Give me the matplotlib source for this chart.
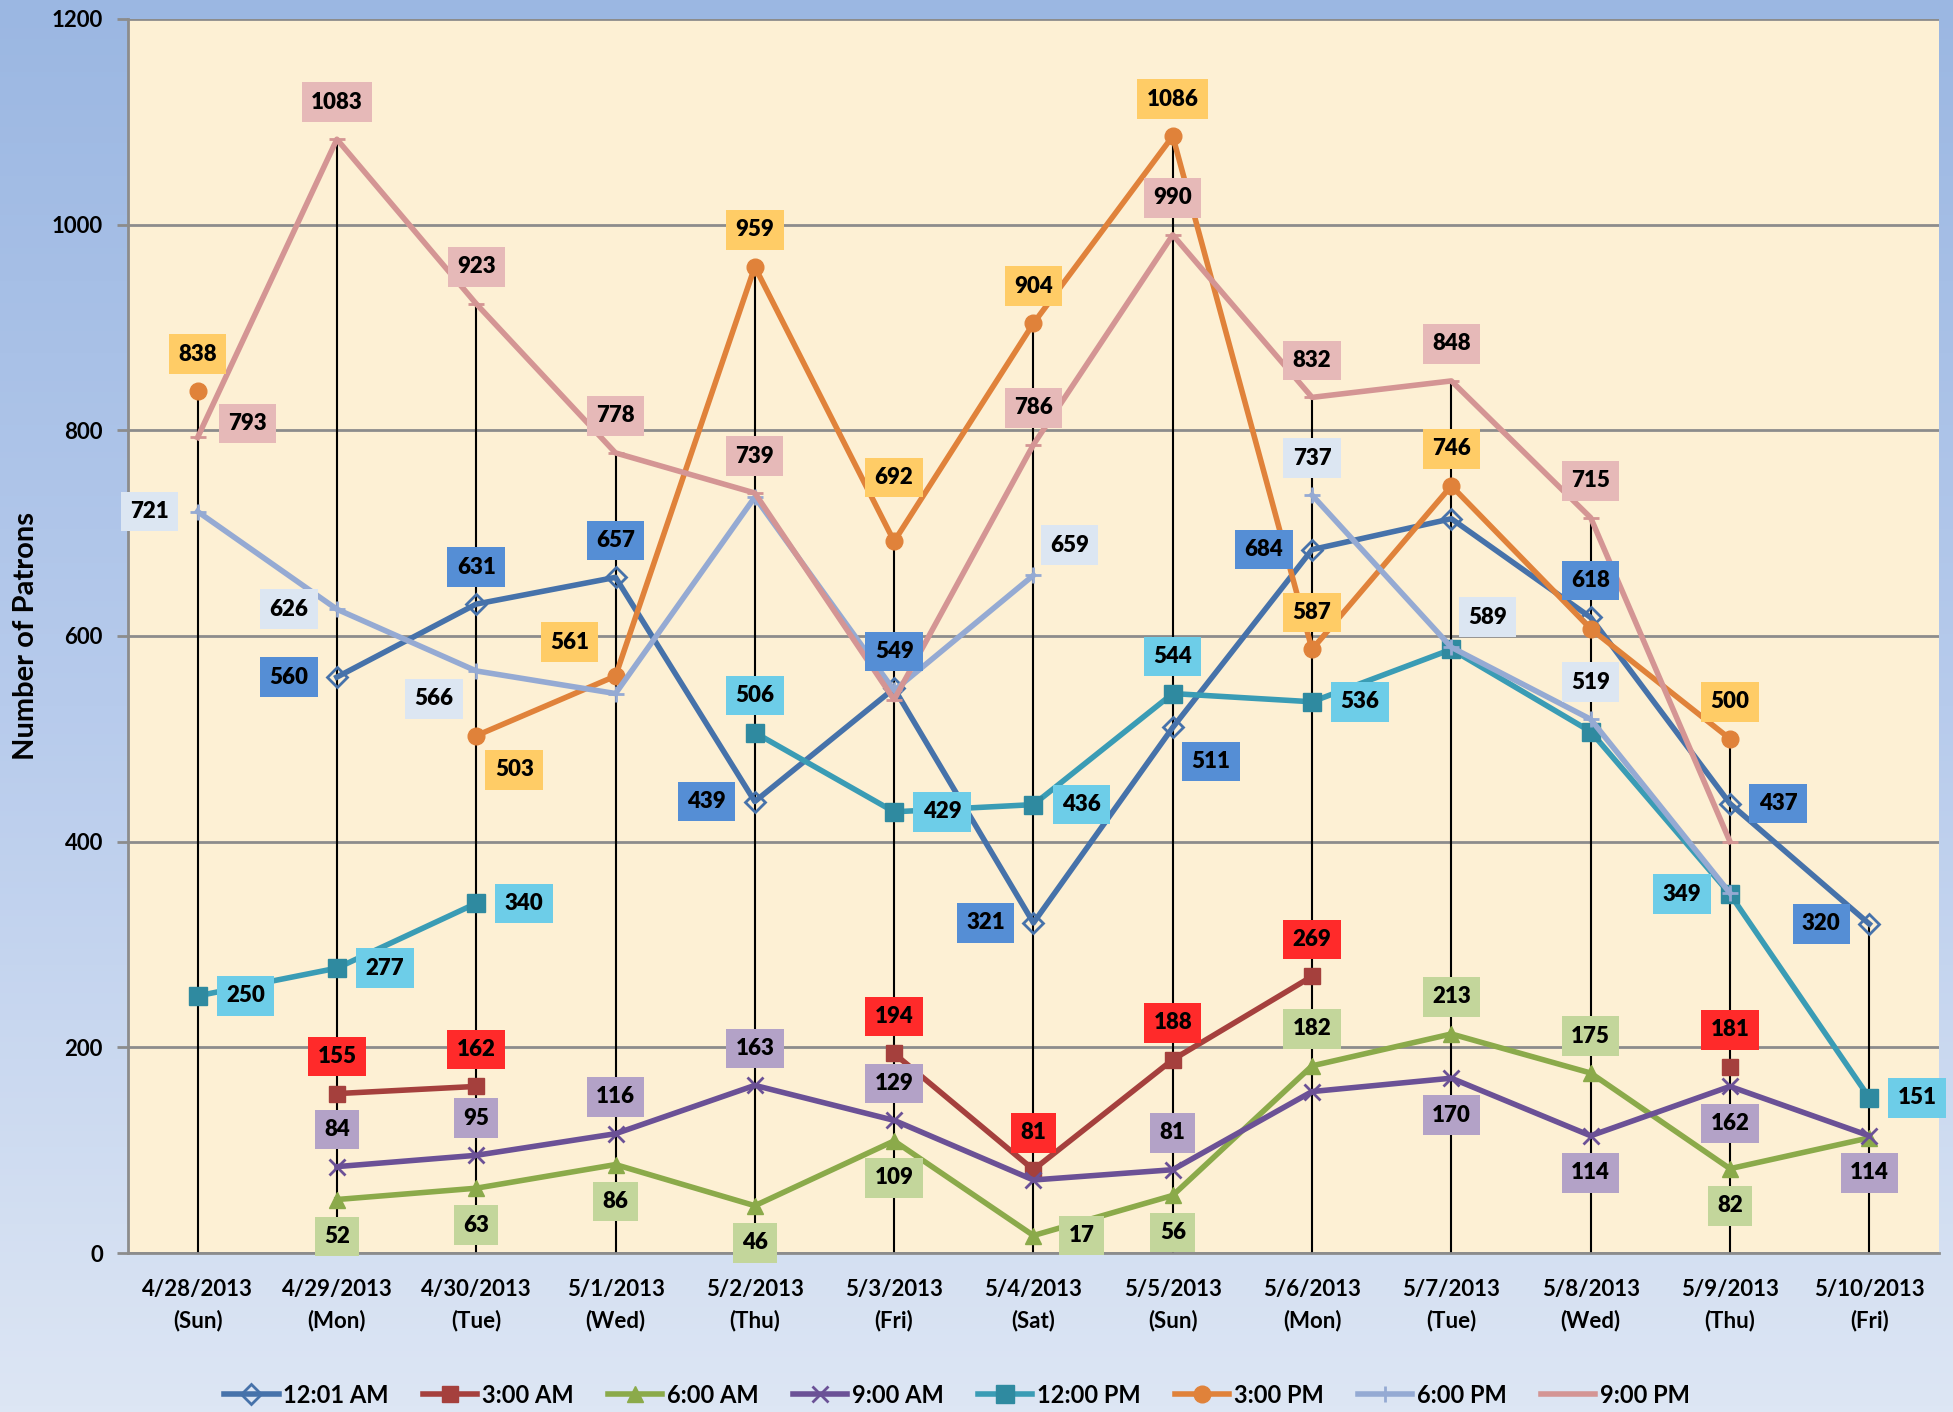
import numpy as np
import matplotlib
matplotlib.use("Agg")
import matplotlib.pyplot as plt
from matplotlib.colors import LinearSegmentedColormap

nan = np.nan

# ---------------
# DATA
# ---------------
dates = ['4/28/2013', '4/29/2013', '4/30/2013', '5/1/2013', '5/2/2013', '5/3/2013', '5/4/2013',
         '5/5/2013', '5/6/2013', '5/7/2013', '5/8/2013', '5/9/2013', '5/10/2013']
days = ['Sun', 'Mon', 'Tue', 'Wed', 'Thu', 'Fri', 'Sat', 'Sun', 'Mon', 'Tue', 'Wed', 'Thu', 'Fri']

names = ['12:01 AM', '3:00 AM', '6:00 AM', '9:00 AM', '12:00 PM', '3:00 PM', '6:00 PM', '9:00 PM']

am1201 = [nan, 560, 631, 657, 439, 549, 321, 511, 684, 714, 618, 437, 320]
am300 = [nan, 155, 162, nan, nan, 194, 81, 188, 269, nan, nan, 181, nan]
am600 = [nan, 52, 63, 86, 46, 109, 17, 56, 182, 213, 175, 82, 112]
am900 = [nan, 84, 95, 116, 163, 129, 71, 81, 157, 170, 114, 162, 114]
pm1200 = [250, 277, 340, nan, 506, 429, 436, 544, 536, 587, 507, 349, 151]
pm300 = [838, nan, 503, 561, 959, 692, 904, 1086, 587, 746, 607, 500, nan]
pm600 = [721, 626, 566, 544, 735, 547, 659, nan, 737, 589, 519, 350, nan]
pm900 = [793, 1083, 923, 778, 739, 538, 786, 990, 832, 848, 715, 400, nan]

# label placement per point ('' = no label)
lab1201 = ['', 'l', 'a', 'a', 'l', 'a', 'l', 'br', 'l', '', 'a', 'r', 'l']
lab300 = ['', 'a', 'a', '', '', 'a', 'a', 'a', 'a', '', '', 'a', '']
lab600 = ['', 'b', 'b', 'b', 'b', 'b', 'r', 'b', 'a', 'a', 'a', 'b', '']
lab900 = ['', 'a', 'a', 'a', 'a', 'a', '', 'a', '', 'b', 'b', 'b', 'b']
lab1200p = ['r', 'r', 'r', '', 'a', 'r', 'r', 'a', 'r', '', '', 'l', 'r']
lab300p = ['a', '', 'br', 'al', 'a', 'a2', 'a', 'a', 'a', 'a', '', 'a', '']
lab600p = ['l', 'l', 'bl', '', '', '', 'ar', '', 'a', 'ar', 'a', '', '']
lab900p = ['ra', 'a', 'a', 'a', 'a', '', 'a', 'a', 'a', 'a', 'a', '', '']

series = [am1201, am300, am600, am900, pm1200, pm300, pm600, pm900]
labpos = [lab1201, lab300, lab600, lab900, lab1200p, lab300p, lab600p, lab900p]

# styles: line colour, marker, marker face, label box colour
line_cols = ['#4672AA', '#A5403D', '#8BAA4A', '#6B5196', '#3A9CB5', '#E0823A', '#95AAD3', '#D49594']
markers = ['D', 's', '^', 'x', 's', 'o', '+', '_']
msizes = [10, 12, 11, 11, 13, 12, 12, 12]
mfaces = ['none', '#A5403D', '#8BAA4A', '#6B5196', '#2F8AA0', '#E0823A', '#95AAD3', '#D49594']
box_cols = ['#558ED5', '#FF2A2A', '#C3D69B', '#B3A2C7', '#6DCDE8', '#FFCC66', '#DCE6F2', '#E6B9B8']

offsets = {'a': (0, 37), 'a2': (0, 64), 'b': (0, -37), 'l': (-48, 0), 'r': (48, 0), 'ra': (50, 14),
           'al': (-46, 34), 'ar': (36, 30), 'bl': (-42, -28), 'br': (38, -34)}

plt.rcParams['font.family'] = ['Lato', 'DejaVu Sans']
plt.rcParams['font.weight'] = 'bold'

fig = plt.figure(figsize=(19.53, 14.12), dpi=100)

# background gradient
bg = fig.add_axes([0, 0, 1, 1], zorder=-10)
grad = np.linspace(0, 1, 256).reshape(-1, 1)
cmap = LinearSegmentedColormap.from_list('bg', ['#9BB7E2', '#B7CBEC', '#DDE6F4'])
bg.imshow(grad, aspect='auto', cmap=cmap, extent=[0, 1, 0, 1], origin='upper')
bg.axis('off')

ax = fig.add_axes([0.0655, 0.1126, 0.9273, 0.874])
ax.set_facecolor('#FDF0D4')

x = np.arange(len(dates))

# drop lines from highest point to axis
data = np.array(series, dtype=float)
tops = np.nanmax(data, axis=0)
ax.vlines(x, 0, tops, colors='black', lw=1.5, zorder=2)

for i, s in enumerate(series):
    ax.plot(x, s, color=line_cols[i], lw=4, marker=markers[i], markersize=msizes[i],
            markerfacecolor=mfaces[i], markeredgecolor=line_cols[i] if i != 4 else '#2F8AA0',
            markeredgewidth=2 if markers[i] in ('D', 'x', '+', '_') else 1,
            label=names[i], zorder=3 + i * 0.1)
    for k, v in enumerate(s):
        p = labpos[i][k]
        if p == '' or np.isnan(v):
            continue
        ax.annotate(str(int(v)), (x[k], v), xytext=offsets[p], textcoords='offset pixels',
                    ha='center', va='center', fontsize=16, fontweight='heavy', color='black',
                    bbox=dict(boxstyle='square,pad=0.42', fc=box_cols[i], ec='none'), zorder=10)

ax.set_xlim(-0.5, len(dates) - 0.5)
ax.set_ylim(0, 1200)
ax.set_yticks(np.arange(0, 1201, 200))
ax.yaxis.grid(True, color='#8C8C8C', lw=2)
ax.set_axisbelow(True)
ax.set_xticks(x)
ax.set_xticklabels([d + '\n(' + w + ')' for d, w in zip(dates, days)], linespacing=1.5)
ax.tick_params(axis='x', length=0, pad=19, labelsize=16)
ax.tick_params(axis='y', length=8, width=2, color='#8C8C8C', pad=10, labelsize=16)
for lab in ax.get_xticklabels() + ax.get_yticklabels():
    lab.set_fontweight('bold')
for sp in ['top', 'right']:
    ax.spines[sp].set_visible(False)
for sp in ['left', 'bottom']:
    ax.spines[sp].set_color('#8C8C8C')
    ax.spines[sp].set_linewidth(2)

ax.set_ylabel('Number of Patrons', fontsize=21, fontweight='bold')
ax.yaxis.set_label_coords(-0.049, 0.5)

fig.legend(loc='center', bbox_to_anchor=(0.49, 0.012), ncol=8, frameon=False,
           prop={'size': 17, 'weight': 'bold'}, handlelength=2.3, columnspacing=1.45,
           handletextpad=0.2)

fig.savefig('out.png', dpi=100)
